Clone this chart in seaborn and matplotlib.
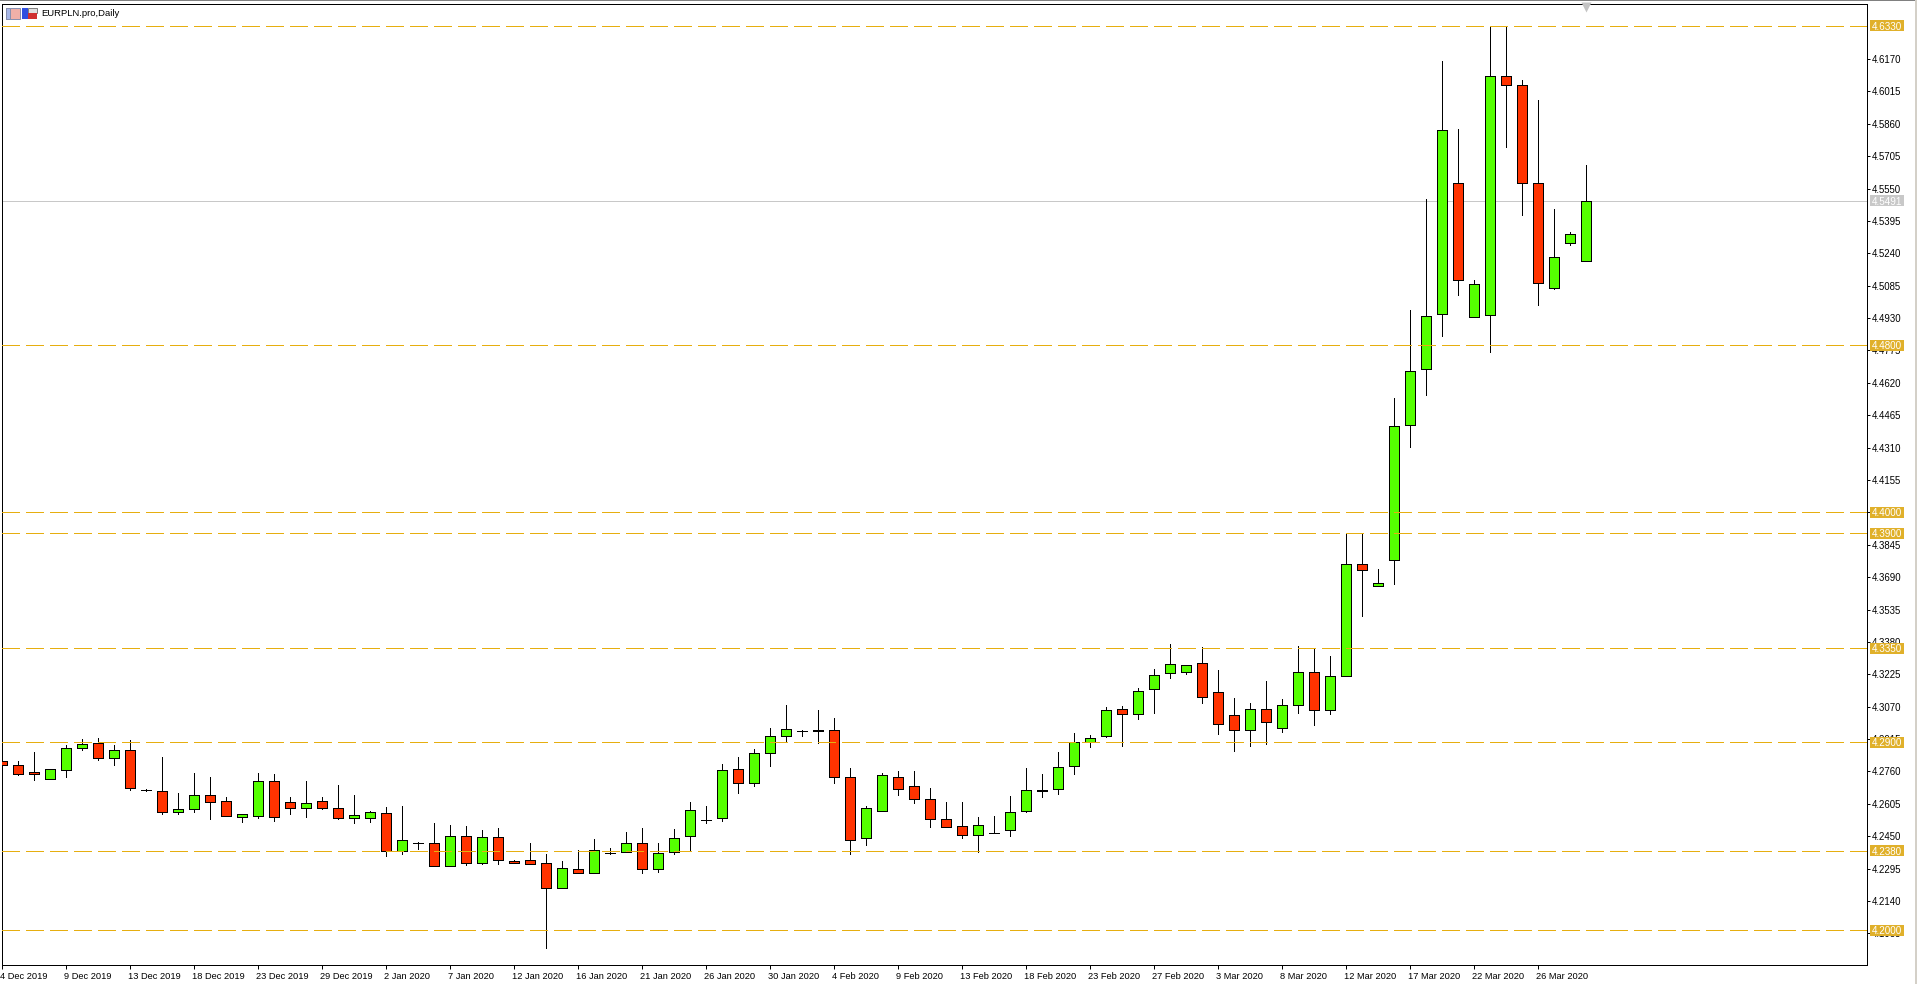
import matplotlib
matplotlib.use("Agg")
import matplotlib.pyplot as plt
import numpy as np
import pandas as pd
import seaborn as sns
from matplotlib.patches import Rectangle
from matplotlib.transforms import blended_transform_factory, ScaledTranslation

symbol_title = "EURPLN.pro,Daily"

opens = [4.2809,4.2793,4.2755,4.2726,4.2766,4.2872,4.2896,4.2822,4.2862,4.2670,
         4.2666,4.2568,4.2578,4.2647,4.2618,4.2540,4.2549,4.2714,4.2613,4.2587,
         4.2618,4.2584,4.2535,4.2535,4.2560,4.2377,4.2417,4.2417,4.2305,4.2450,
         4.2324,4.2445,4.2330,4.2335,4.2321,4.2200,4.2292,4.2276,4.2369,4.2374,
         4.2417,4.2295,4.2372,4.2449,4.2527,4.2535,4.2771,4.2707,4.2846,4.2928,
         4.2953,4.2958,4.2958,4.2733,4.2439,4.2573,4.2733,4.2690,4.2627,4.2532,
         4.2498,4.2458,4.2465,4.2482,4.2573,4.2669,4.2674,4.2785,4.2900,4.2928,
         4.3058,4.3033,4.3153,4.3231,4.3236,4.3279,4.3140,4.3030,4.2956,4.3058,
         4.2966,4.3076,4.3236,4.3052,4.3215,4.3753,4.3646,4.3770,4.4417,4.4685,
         4.4950,4.5578,4.4936,4.4945,4.6090,4.6047,4.5578,4.5075,4.5289,4.5204]
highs = [4.2809,4.2809,4.2852,4.2771,4.2888,4.2915,4.2920,4.2886,4.2910,4.2677,
         4.2829,4.2656,4.2752,4.2733,4.2637,4.2556,4.2752,4.2747,4.2637,4.2714,
         4.2637,4.2694,4.2647,4.2570,4.2589,4.2594,4.2421,4.2512,4.2503,4.2498,
         4.2479,4.2489,4.2335,4.2417,4.2364,4.2330,4.2383,4.2436,4.2393,4.2469,
         4.2490,4.2417,4.2484,4.2615,4.2595,4.2797,4.2829,4.2867,4.2967,4.3079,
         4.2958,4.3055,4.3015,4.2776,4.2595,4.2752,4.2761,4.2761,4.2680,4.2613,
         4.2613,4.2541,4.2546,4.2642,4.2776,4.2747,4.2852,4.2943,4.2934,4.3068,
         4.3073,4.3159,4.3250,4.3371,4.3269,4.3355,4.3245,4.3111,4.3087,4.3192,
         4.3106,4.3362,4.3347,4.3314,4.3900,4.3900,4.3730,4.4549,4.4971,4.5498,
         4.6163,4.5833,4.5113,4.6330,4.6330,4.6068,4.5972,4.5450,4.5343,4.5661]
lows = [4.2793,4.2741,4.2717,4.2726,4.2731,4.2865,4.2813,4.2789,4.2669,4.2667,
        4.2554,4.2554,4.2568,4.2530,4.2549,4.2516,4.2535,4.2525,4.2554,4.2544,
        4.2578,4.2530,4.2511,4.2520,4.2353,4.2367,4.2391,4.2305,4.2305,4.2310,
        4.2319,4.2319,4.2324,4.2319,4.1917,4.2200,4.2276,4.2276,4.2367,4.2374,
        4.2276,4.2281,4.2367,4.2377,4.2511,4.2525,4.2659,4.2688,4.2784,4.2900,
        4.2932,4.2894,4.2707,4.2367,4.2410,4.2573,4.2645,4.2611,4.2496,4.2492,
        4.2439,4.2372,4.2465,4.2449,4.2564,4.2640,4.2650,4.2749,4.2875,4.2923,
        4.2884,4.3009,4.3038,4.3208,4.3228,4.3086,4.2937,4.2856,4.2880,4.2891,
        4.2947,4.3038,4.2983,4.3033,4.3215,4.3502,4.3646,4.3659,4.4312,4.4561,
        4.4843,4.5040,4.4936,4.4767,4.5748,4.5423,4.4992,4.5068,4.5279,4.5204]
closes = [4.2793,4.2750,4.2750,4.2771,4.2872,4.2891,4.2822,4.2862,4.2683,4.2670,
          4.2568,4.2579,4.2647,4.2616,4.2549,4.2556,4.2714,4.2544,4.2587,4.2608,
          4.2583,4.2535,4.2551,4.2565,4.2377,4.2431,4.2417,4.2305,4.2450,4.2324,
          4.2445,4.2338,4.2324,4.2319,4.2200,4.2297,4.2276,4.2383,4.2369,4.2417,
          4.2295,4.2369,4.2441,4.2575,4.2527,4.2766,4.2707,4.2848,4.2929,4.2963,
          4.2953,4.2953,4.2731,4.2434,4.2584,4.2742,4.2678,4.2626,4.2530,4.2492,
          4.2458,4.2503,4.2465,4.2565,4.2670,4.2667,4.2781,4.2900,4.2920,4.3054,
          4.3033,4.3145,4.3221,4.3274,4.3269,4.3114,4.2985,4.2956,4.3058,4.2999,
          4.3078,4.3236,4.3052,4.3216,4.3753,4.3722,4.3662,4.4414,4.4677,4.4941,
          4.5831,4.5111,4.5094,4.6090,4.6045,4.5576,4.5097,4.5223,4.5333,4.5491]

price_ticks = [4.6170,4.6015,4.5860,4.5705,4.5550,4.5395,4.5240,4.5085,4.4930,4.4775,
               4.4620,4.4465,4.4310,4.4155,4.4000,4.3845,4.3690,4.3535,4.3380,4.3225,
               4.3070,4.2915,4.2760,4.2605,4.2450,4.2295,4.2140,4.1985]
level_prices = [4.6330,4.4800,4.4000,4.3900,4.3350,4.2900,4.2380,4.2000]
last_price = 4.5491
date_labels = ["4 Dec 2019","9 Dec 2019","13 Dec 2019","18 Dec 2019","23 Dec 2019",
               "29 Dec 2019","2 Jan 2020","7 Jan 2020","12 Jan 2020","16 Jan 2020",
               "21 Jan 2020","26 Jan 2020","30 Jan 2020","4 Feb 2020","9 Feb 2020",
               "13 Feb 2020","18 Feb 2020","23 Feb 2020","27 Feb 2020","3 Mar 2020",
               "8 Mar 2020","12 Mar 2020","17 Mar 2020","22 Mar 2020","26 Mar 2020"]

W, H = 1917, 984
PX = 0.72
UP, DOWN = "#55FF00", "#FF3300"
GOLD_LINE, GOLD_BOX, GREY = "#E6AE10", "#E0B02A", "#C8C8C8"

sns.set_theme(style="white")
plt.rcParams["font.family"] = ["Liberation Sans", "DejaVu Sans"]

df = pd.DataFrame({"open": opens, "high": highs, "low": lows, "close": closes})
df["bar"] = np.arange(len(df))
wicks = df.melt(id_vars="bar", value_vars=["high", "low"], value_name="price")

fig = plt.figure(figsize=(W / 100, H / 100), dpi=100, facecolor="white")
L, R, T, B = 1.5, 1867.4, 3.5, 965.3
ax = fig.add_axes([L / W, 1 - B / H, (R - L) / W, (B - T) / H], facecolor="white")

ax.axhline(last_price, color=GREY, lw=PX, zorder=1, antialiased=False)
sns.lineplot(data=wicks, x="bar", y="price", units="bar", estimator=None, color="black",
             lw=PX, legend=False, ax=ax, zorder=2, antialiased=False)

up = df["close"] >= df["open"]
ax.bar(df["bar"], (df["close"] - df["open"]).abs(), bottom=df[["open", "close"]].min(axis=1),
       width=0.625, color=np.where(up, UP, DOWN), edgecolor="black", linewidth=PX,
       zorder=3, antialiased=False)

for v in level_prices:
    ax.axhline(v, color=GOLD_LINE, lw=PX, dashes=(18, 6), zorder=5, antialiased=False)

ax.set_xlim(-0.006, 116.61)
ax.set_ylim(4.1832, 4.6436)
ax.set_xlabel("")
ax.set_ylabel("")

ax.yaxis.tick_right()
ax.set_yticks(price_ticks)
ax.set_yticklabels([f"{v:.4f}" for v in price_ticks])
ax.set_xticks(np.arange(len(date_labels)) * 4)
ax.set_xticklabels(date_labels, ha="left")
ax.tick_params(axis="y", which="major", right=True, left=False, length=2.2, width=PX, pad=0.9,
               labelsize=6.9, colors="black")
ax.tick_params(axis="x", which="major", bottom=True, length=2.6, width=PX, pad=2.2,
               labelsize=6.65, colors="black")
shift = ScaledTranslation(-1.5 / 100, 0, fig.dpi_scale_trans)
for lab in ax.get_xticklabels():
    lab.set_transform(lab.get_transform() + shift)
for s in ax.spines.values():
    s.set_visible(True)
    s.set_color("black")
    s.set_linewidth(PX)
    s.set_antialiased(False)

# price tags on the right axis
tr = blended_transform_factory(ax.transAxes, ax.transData)
ax_w = R - L
box_h = 11 / ((B - T) / (4.6436 - 4.1832))
def tag(value, face):
    ax.add_patch(Rectangle((1 + 2.6 / ax_w, value - box_h / 2), 34 / ax_w, box_h, transform=tr,
                           facecolor=face, edgecolor="none", clip_on=False, zorder=20))
    ax.text(1 + 19.6 / ax_w, value, f"{value:.4f}", transform=tr, color="white", ha="center",
            va="center_baseline", fontsize=7.1, zorder=21, clip_on=False)
for v in level_prices:
    tag(v, GOLD_BOX)
tag(last_price, GREY)

# shift marker over the last bar
ax.plot([len(df) - 1], [0.9965], marker="v", ms=6.5, color="#C4C4C4", mec="none",
        transform=blended_transform_factory(ax.transData, ax.transAxes), clip_on=False, zorder=6)

# window chrome, icons and symbol caption in pixel coordinates
ov = fig.add_axes([0, 0, 1, 1], facecolor="none")
ov.set_xlim(0, W)
ov.set_ylim(H, 0)
ov.axis("off")
ov.add_patch(Rectangle((0, 0), W, 1.2, fc="#808080", ec="none"))
ov.add_patch(Rectangle((1914.5, 0), 2.5, H, fc="#D4D0C8", ec="none"))
ov.add_patch(Rectangle((5.5, 8), 14, 11, fc="#F0B0A8", ec="#8890B0", lw=PX))
ov.add_patch(Rectangle((5.5, 8), 4.5, 11, fc="#A8B8E8", ec="#8890B0", lw=PX))
ov.add_patch(Rectangle((22, 8), 6, 11, fc="#3050E0", ec="none"))
ov.add_patch(Rectangle((28, 8), 9, 4.5, fc="#E0E0E0", ec="#808080", lw=PX))
ov.add_patch(Rectangle((28, 13), 9, 6, fc="#D03030", ec="none"))
ov.text(41.5, 14, symbol_title, fontsize=6.8, color="black", ha="left", va="center")

fig.savefig("out.png", dpi=100, facecolor="white")
